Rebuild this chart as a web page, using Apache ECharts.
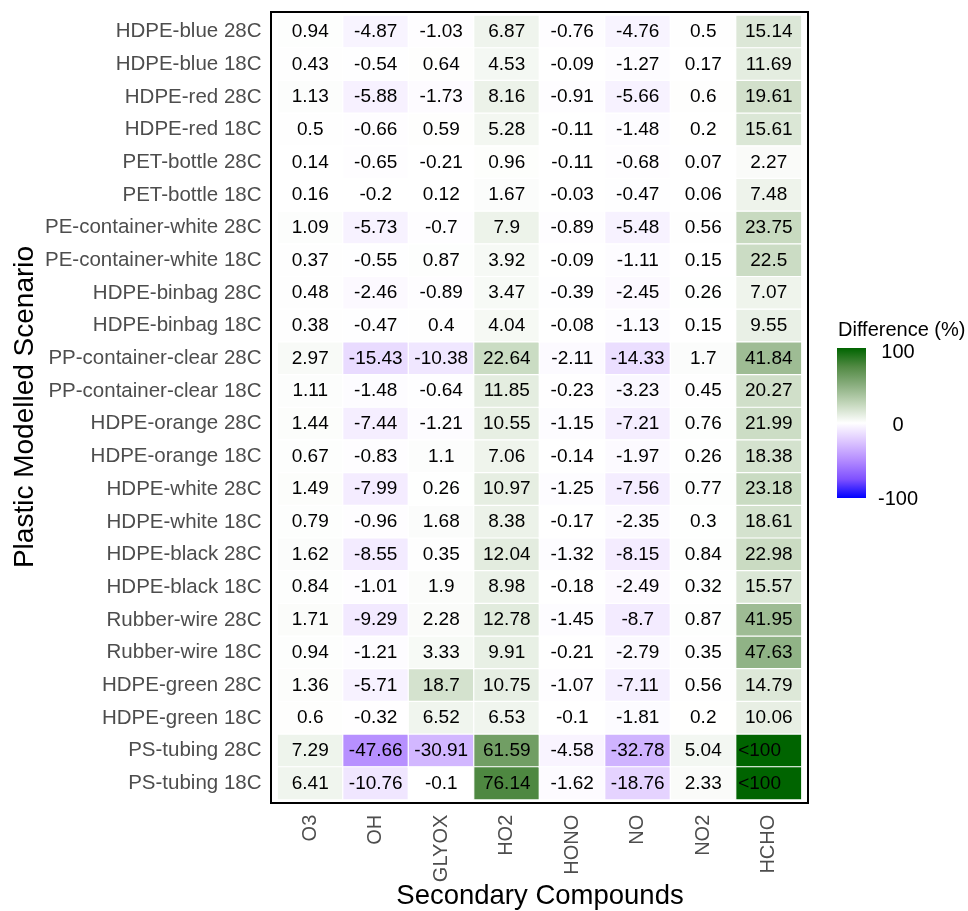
<!DOCTYPE html>
<html><head><meta charset="utf-8">
<script src="https://cdn.jsdelivr.net/npm/echarts@6/dist/echarts.min.js"></script>
<style>html,body{margin:0;padding:0;background:#fff}#c{width:968px;height:911px}</style>
</head><body><div id="c"></div>
<script>
const compounds = ['O3','OH','GLYOX','HO2','HONO','NO','NO2','HCHO'];
const scenarios = ['HDPE-blue 28C','HDPE-blue 18C','HDPE-red 28C','HDPE-red 18C','PET-bottle 28C','PET-bottle 18C',
 'PE-container-white 28C','PE-container-white 18C','HDPE-binbag 28C','HDPE-binbag 18C','PP-container-clear 28C','PP-container-clear 18C',
 'HDPE-orange 28C','HDPE-orange 18C','HDPE-white 28C','HDPE-white 18C','HDPE-black 28C','HDPE-black 18C',
 'Rubber-wire 28C','Rubber-wire 18C','HDPE-green 28C','HDPE-green 18C','PS-tubing 28C','PS-tubing 18C'];
const O3    = [0.94,0.43,1.13,0.5,0.14,0.16,1.09,0.37,0.48,0.38,2.97,1.11,1.44,0.67,1.49,0.79,1.62,0.84,1.71,0.94,1.36,0.6,7.29,6.41];
const OH    = [-4.87,-0.54,-5.88,-0.66,-0.65,-0.2,-5.73,-0.55,-2.46,-0.47,-15.43,-1.48,-7.44,-0.83,-7.99,-0.96,-8.55,-1.01,-9.29,-1.21,-5.71,-0.32,-47.66,-10.76];
const GLYOX = [-1.03,0.64,-1.73,0.59,-0.21,0.12,-0.7,0.87,-0.89,0.4,-10.38,-0.64,-1.21,1.1,0.26,1.68,0.35,1.9,2.28,3.33,18.7,6.52,-30.91,-0.1];
const HO2   = [6.87,4.53,8.16,5.28,0.96,1.67,7.9,3.92,3.47,4.04,22.64,11.85,10.55,7.06,10.97,8.38,12.04,8.98,12.78,9.91,10.75,6.53,61.59,76.14];
const HONO  = [-0.76,-0.09,-0.91,-0.11,-0.11,-0.03,-0.89,-0.09,-0.39,-0.08,-2.11,-0.23,-1.15,-0.14,-1.25,-0.17,-1.32,-0.18,-1.45,-0.21,-1.07,-0.1,-4.58,-1.62];
const NO    = [-4.76,-1.27,-5.66,-1.48,-0.68,-0.47,-5.48,-1.11,-2.45,-1.13,-14.33,-3.23,-7.21,-1.97,-7.56,-2.35,-8.15,-2.49,-8.7,-2.79,-7.11,-1.81,-32.78,-18.76];
const NO2   = [0.5,0.17,0.6,0.2,0.07,0.06,0.56,0.15,0.26,0.15,1.7,0.45,0.76,0.26,0.77,0.3,0.84,0.32,0.87,0.35,0.56,0.2,5.04,2.33];
const HCHO  = [15.14,11.69,19.61,15.61,2.27,7.48,23.75,22.5,7.07,9.55,41.84,20.27,21.99,18.38,23.18,18.61,22.98,15.57,41.95,47.63,14.79,10.06,'<100','<100'];
const columns = [O3,OH,GLYOX,HO2,HONO,NO,NO2,HCHO];
const scaleMin = -100, scaleMax = 100;
const legendTicks = ['100','0','-100'];
const palette = ['#0000ff','#7f51ff','#b38bff','#dcc5ff','#ffffff','#c5d8bd','#8baf80','#528a44','#006400'];

const FONT = "'Liberation Sans', Arial, sans-serif";
const data = [];
columns.forEach((col, xi) => {
  col.forEach((v, yi) => {
    if (typeof v === 'string') {
      data.push({value: [xi, yi, scaleMax], txt: v,
        label: {position: 'insideLeft', offset: [-2, 0]}});
    } else {
      data.push({value: [xi, yi, v], txt: String(v)});
    }
  });
});

const chart = echarts.init(document.getElementById('c'), null, {renderer: 'canvas'});
const gradStops = palette.slice().reverse().map((c, i) => ({offset: i / (palette.length - 1), color: c}));
chart.setOption({
  backgroundColor: '#fff',
  animation: false,
  grid: {left: 277.5, right: 166.5, top: 15.3, bottom: 111.3, containLabel: false},
  xAxis: {type: 'category', data: compounds, position: 'bottom',
    axisLine: {show: false}, axisTick: {show: false}, splitArea: {show: false},
    axisLabel: {rotate: 90, margin: 15, color: '#4d4d4d', fontSize: 20, fontFamily: FONT}},
  yAxis: {type: 'category', data: scenarios, inverse: true,
    axisLine: {show: false}, axisTick: {show: false},
    axisLabel: {margin: 16, color: '#4d4d4d', fontSize: 20.5, fontFamily: FONT}},
  visualMap: {show: false, type: 'continuous', min: scaleMin, max: scaleMax, dimension: 2,
    inRange: {color: palette}},
  series: [{
    type: 'heatmap', data: data,
    itemStyle: {borderColor: '#fff', borderWidth: 1.2},
    label: {show: true, color: '#000', fontSize: 19, fontFamily: FONT,
      formatter: p => p.data.txt},
    emphasis: {disabled: true}
  }],
  graphic: [
    {type: 'rect', z: 100, shape: {x: 271, y: 12, width: 537, height: 791},
      style: {fill: null, stroke: '#000', lineWidth: 2}},
    {type: 'text', x: 540, y: 896, style: {text: 'Secondary Compounds', font: '27.5px ' + FONT,
      fill: '#000', textAlign: 'center', textVerticalAlign: 'middle'}},
    {type: 'text', x: 25, y: 407, rotation: Math.PI / 2, style: {text: 'Plastic Modelled Scenario',
      font: '28px ' + FONT, fill: '#000', textAlign: 'center', textVerticalAlign: 'middle'}},
    {type: 'text', x: 838, y: 330, style: {text: 'Difference (%)', font: '20px ' + FONT,
      fill: '#000', textAlign: 'left', textVerticalAlign: 'middle'}},
    {type: 'rect', shape: {x: 837, y: 348, width: 29, height: 150},
      style: {fill: new echarts.graphic.LinearGradient(0, 0, 0, 1, gradStops)}},
    {type: 'text', x: 898, y: 352, style: {text: legendTicks[0], font: '20px ' + FONT, fill: '#000', textAlign: 'center', textVerticalAlign: 'middle'}},
    {type: 'text', x: 898, y: 425, style: {text: legendTicks[1], font: '20px ' + FONT, fill: '#000', textAlign: 'center', textVerticalAlign: 'middle'}},
    {type: 'text', x: 898, y: 499, style: {text: legendTicks[2], font: '20px ' + FONT, fill: '#000', textAlign: 'center', textVerticalAlign: 'middle'}}
  ]
});
</script></body></html>
